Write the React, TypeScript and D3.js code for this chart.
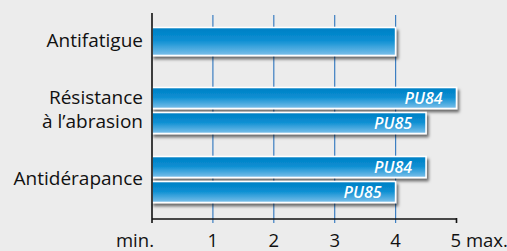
import * as d3 from "d3";

const categories = ["Antifatigue", "Résistance à l’abrasion", "Antidérapance"];
const categoryLines = [["Antifatigue"], ["Résistance", "à l’abrasion"], ["Antidérapance"]];
const seriesNames = ["PU84", "PU85"];
const singleValues = [4, null, null];
const pu84Values = [null, 5, 4.5];
const pu85Values = [null, 4.5, 4];
const tickValues = [0, 1, 2, 3, 4, 5];
const tickLabels = ["min.", "1", "2", "3", "4", "5 max."];

const W = 507;
const H = 251;
const FONT = "'Open Sans', 'Noto Sans', sans-serif";

export default function App() {
  const x = d3.scaleLinear().domain([0, 5]).range([152, 456.5]);
  const y = d3.scaleBand().domain(categories).range([7, 214]).padding(0);

  const pairHeight = 46;
  const sub = d3.scaleBand().domain(seriesNames).range([0, pairHeight]).paddingInner(0.16);
  const singleHeight = 28;

  const bars: { key: string; x0: number; x1: number; y0: number; h: number; label: string | null }[] = [];
  categories.forEach((c, i) => {
    const center = (y(c) ?? 0) + y.bandwidth() / 2;
    const single = singleValues[i];
    if (single != null) {
      bars.push({ key: c, x0: x(0), x1: x(single), y0: center - singleHeight / 2, h: singleHeight, label: null });
    }
    [pu84Values, pu85Values].forEach((vals, s) => {
      const v = vals[i];
      if (v == null) return;
      bars.push({
        key: c + s,
        x0: x(0),
        x1: x(v),
        y0: center - pairHeight / 2 + (sub(seriesNames[s]) ?? 0),
        h: sub.bandwidth(),
        label: seriesNames[s],
      });
    });
  });

  const gridTop = 15;
  const axisY = 219;

  return (
    <div style={{ position: "absolute", left: 0, top: 0 }}>
      <svg width={W} height={H} style={{ display: "block" }}>
        <defs>
          <linearGradient id="barGrad" x1="0" y1="0" x2="0" y2="1">
            <stop offset="0" stopColor="#007fc4" />
            <stop offset="0.45" stopColor="#0a8ed2" />
            <stop offset="1" stopColor="#7dc0ea" />
          </linearGradient>
          <filter id="shadow" x="-5%" y="-30%" width="115%" height="180%">
            <feDropShadow dx="2" dy="3" stdDeviation="1.6" floodColor="#000" floodOpacity="0.55" />
          </filter>
        </defs>
        <rect width={W} height={H} fill="#ececec" />

        {/* grid */}
        {tickValues.slice(1, 5).map((t) => (
          <line key={t} x1={x(t)} x2={x(t)} y1={gridTop} y2={axisY + 4} stroke="#3c7fc2" strokeWidth={1.2} />
        ))}

        {/* bars */}
        {bars.map((b) => (
          <g key={b.key}>
            <rect
              x={b.x0}
              y={b.y0}
              width={b.x1 - b.x0}
              height={b.h}
              fill="url(#barGrad)"
              stroke="#fff"
              strokeWidth={1.6}
              filter="url(#shadow)"
            />
            {b.label && (
              <text
                x={b.x1 - 14}
                y={b.y0 + b.h / 2 + 5.5}
                textAnchor="end"
                fill="#fff"
                fontFamily={FONT}
                fontStyle="italic"
                fontWeight={600}
                fontSize={16}
              >
                {b.label}
              </text>
            )}
          </g>
        ))}

        {/* axes */}
        <line x1={x(0)} x2={x(0)} y1={13} y2={axisY + 4} stroke="#111" strokeWidth={1.6} />
        <line x1={x(0)} x2={x(5)} y1={axisY} y2={axisY} stroke="#111" strokeWidth={1.6} />
        <line x1={x(5)} x2={x(5)} y1={axisY - 1} y2={axisY + 4} stroke="#111" strokeWidth={1.6} />

        {/* tick labels */}
        {tickValues.map((t, i) => {
          const anchor = i === 0 ? "end" : i === 5 ? "start" : "middle";
          const tx = i === 0 ? x(t) + 2 : i === 5 ? x(t) - 6 : x(t);
          return (
            <text key={t} x={tx} y={247} textAnchor={anchor} fontFamily={FONT} fontSize={18.5} fill="#111">
              {tickLabels[i]}
            </text>
          );
        })}

        {/* category labels */}
        {categories.map((c, i) => {
          const center = (y(c) ?? 0) + y.bandwidth() / 2;
          const lines = categoryLines[i];
          return lines.map((ln, j) => (
            <text
              key={c + j}
              x={143}
              y={center + 5 + (j - (lines.length - 1) / 2) * 24}
              textAnchor="end"
              fontFamily={FONT}
              fontSize={19}
              fill="#111"
            >
              {ln}
            </text>
          ));
        })}
      </svg>
    </div>
  );
}
